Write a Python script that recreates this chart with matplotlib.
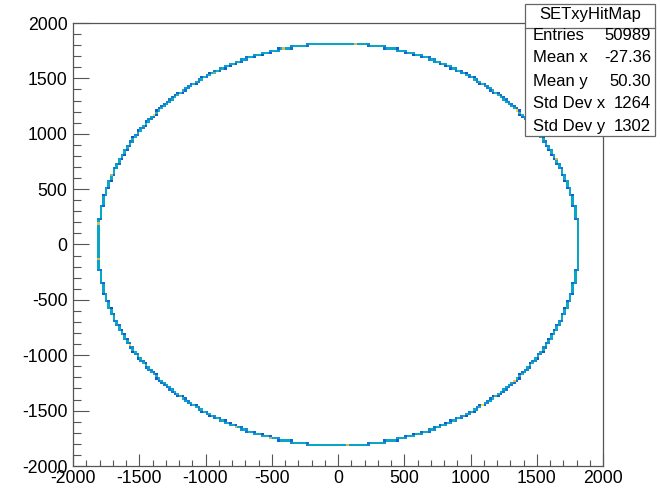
import numpy as np
import matplotlib
matplotlib.use("Agg")
import matplotlib.pyplot as plt
from matplotlib.colors import LinearSegmentedColormap
from matplotlib.patches import Rectangle

# --- values ---
hist_name = "SETxyHitMap"
n_entries = 50989
stat_labels = ["Entries", "Mean x", "Mean y", "Std Dev x", "Std Dev y"]
stat_values = ["50989", "-27.36", "50.30", "1264", "1302"]

ring_radius = 1815.0      # radius of the hit ring (mm)
bin_width = 20.0          # 200 bins over [-2000, 2000]
axis_range = (-2000, 2000)
tick_values = [-2000, -1500, -1000, -500, 0, 500, 1000, 1500, 2000]
# angles (deg) of the few hot (yellow) bins seen on the ring
hot_angles = [25, 42, 66, 86, 103, 121, 140, 160, 174, 184, 210, 245, 254, 272, 307, 317]
hot_factor = 2.3
z_min, z_max = -30.0, 280.0   # colour scale range (counts)

# ROOT kBird palette stops
bird_r = [0.2082, 0.0592, 0.0780, 0.0232, 0.1802, 0.5301, 0.8186, 0.9956, 0.9764]
bird_g = [0.1664, 0.3599, 0.5041, 0.6419, 0.7178, 0.7492, 0.7328, 0.7862, 0.9832]
bird_b = [0.5293, 0.8684, 0.8385, 0.7914, 0.6425, 0.4662, 0.3499, 0.1968, 0.0539]
kbird = LinearSegmentedColormap.from_list("kBird", list(zip(bird_r, bird_g, bird_b)))

# --- fill the 2D histogram: hits spread evenly along the ring ---
edges = np.arange(axis_range[0], axis_range[1] + bin_width, bin_width)
phi = np.linspace(0, 2 * np.pi, 400000, endpoint=False)
dl = 2 * np.pi * ring_radius / len(phi)
px, py = ring_radius * np.cos(phi), ring_radius * np.sin(phi)
arc, _, _ = np.histogram2d(px, py, bins=[edges, edges])
counts = arc * dl * n_entries / (2 * np.pi * ring_radius)
for a in hot_angles:
    t = np.radians(a)
    ix = np.searchsorted(edges, ring_radius * np.cos(t)) - 1
    iy = np.searchsorted(edges, ring_radius * np.sin(t)) - 1
    counts[ix, iy] *= hot_factor

H = np.ma.masked_where(counts <= 0, counts).T

fig = plt.figure(figsize=(6.6, 4.94), dpi=100)
ax = fig.add_axes([73 / 660, 1 - 466 / 494, (603 - 73) / 660, (466 - 23) / 494])
ax.pcolormesh(edges, edges, H, cmap=kbird, vmin=z_min, vmax=z_max, shading="flat")
ax.set_xlim(*axis_range)
ax.set_ylim(*axis_range)

ax.set_xticks(tick_values)
ax.set_yticks(tick_values)
ax.set_xticks(np.arange(-2000, 2001, 100), minor=True)
ax.set_yticks(np.arange(-2000, 2001, 100), minor=True)
fnt = dict(family="Liberation Sans", size=12.7)
ax.set_xticklabels([str(v) for v in tick_values], **fnt)
ax.set_yticklabels([str(v) for v in tick_values], **fnt)
ax.tick_params(axis="x", which="major", direction="in", length=8.5, width=0.8, pad=3, color="#555555")
ax.tick_params(axis="x", which="minor", direction="in", length=4.3, width=0.8, color="#555555")
ax.tick_params(axis="y", which="major", direction="in", length=11.5, width=0.8, pad=4, color="#555555")
ax.tick_params(axis="y", which="minor", direction="in", length=6, width=0.8, color="#555555")
for s in ax.spines.values():
    s.set_color("#555555")
    s.set_linewidth(0.9)

# stats box
sfnt = dict(family="Liberation Sans", size=12)
W, Hh = 660.0, 494.0
bx0, bx1, by0, by1, ysep = 525, 655, 4, 136, 28
fig.patches.append(Rectangle((bx0 / W, 1 - by1 / Hh), (bx1 - bx0) / W, (by1 - by0) / Hh,
                             transform=fig.transFigure, facecolor="white",
                             edgecolor="#666666", linewidth=0.9, zorder=5))
fig.lines.append(plt.Line2D([bx0 / W, bx1 / W], [1 - ysep / Hh, 1 - ysep / Hh],
                            transform=fig.transFigure, color="#666666", linewidth=0.9, zorder=6))
fig.text((bx0 + bx1) / 2 / W, 1 - 15 / Hh, hist_name, ha="center", va="center", zorder=7, **sfnt)
row_y = [35, 58, 81, 104, 126]
for lab, val, y in zip(stat_labels, stat_values, row_y):
    fig.text(533 / W, 1 - y / Hh, lab, ha="left", va="center", zorder=7, **sfnt)
    fig.text(651 / W, 1 - y / Hh, val, ha="right", va="center", zorder=7, **sfnt)

fig.savefig("out.png", dpi=100)
